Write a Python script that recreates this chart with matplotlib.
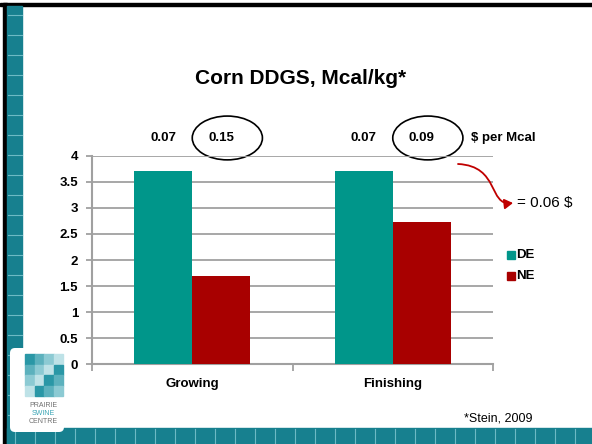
import matplotlib.pyplot as plt
from matplotlib.patches import Rectangle, Ellipse, FancyBboxPatch, FancyArrowPatch
from matplotlib.path import Path
import numpy as np

plt.rcParams['font.family'] = ['Liberation Sans', 'DejaVu Sans']

stages = ["Growing", "Finishing"]
de_values = [3.70, 3.70]
ne_values = [1.70, 2.73]
de_price = [0.07, 0.07]
ne_price = [0.15, 0.09]
y_ticks = [0, 0.5, 1, 1.5, 2, 2.5, 3, 3.5, 4]
y_tick_labels = ["0", "0.5", "1", "1.5", "2", "2.5", "3", "3.5", "4"]

teal = "#00968A"
red = "#A80000"
border = "#17808F"
border_line = "#6DB9C4"

W, H = 592, 444
fig = plt.figure(figsize=(W / 100, H / 100), dpi=100)
fig.patch.set_facecolor("white")

# main bar chart
ax = fig.add_axes([92 / W, (H - 364.3) / H, 401 / W, 208.6 / H])
x = np.arange(len(stages))
bw = 0.29
ax.bar(x - bw / 2, de_values, bw, color=teal, zorder=3)
ax.bar(x + bw / 2, ne_values, bw, color=red, zorder=3)
ax.set_xlim(-0.5, 1.5)
ax.set_ylim(0, 4)
ax.set_yticks(y_ticks)
ax.set_yticklabels(y_tick_labels, fontsize=9.5, fontweight="bold")
ax.yaxis.grid(True, color="#A0A0A0", lw=1.3, zorder=0)
ax.set_xticks([-0.5, 0.5, 1.5])
ax.set_xticklabels([])
ax.tick_params(axis="x", length=5, color="#A0A0A0", width=1.3)
ax.tick_params(axis="y", length=4, color="#A0A0A0", width=1.3, pad=6)
for s in ["top", "right"]:
    ax.spines[s].set_visible(False)
for s in ["left", "bottom"]:
    ax.spines[s].set_color("#A0A0A0")
    ax.spines[s].set_linewidth(1.5)
for xi, lab in zip(x, stages):
    ax.text(xi, -0.38, lab, ha="center", va="center", fontsize=9.5,
            fontweight="bold")

# $ per Mcal above each bar, NE prices circled
for xi, dp, npr in zip(x, de_price, ne_price):
    ax.text(xi - bw / 2, 4.34, f"{dp:.2f}", ha="center", va="center",
            fontsize=9.5, fontweight="bold", clip_on=False)
    ax.text(xi + bw / 2, 4.34, f"{npr:.2f}", ha="center", va="center",
            fontsize=9.5, fontweight="bold", clip_on=False)
    ax.add_patch(Ellipse((xi + bw / 2 + 0.03, 4.34), 0.35, 0.84, fill=False,
                         ec="black", lw=1.2, clip_on=False))
ax.text(1.39, 4.34, "$ per Mcal", ha="left", va="center", fontsize=9.5,
        fontweight="bold", clip_on=False)

# overlay in pixel coordinates for slide decoration
ov = fig.add_axes([0, 0, 1, 1], zorder=5)
ov.set_xlim(0, W)
ov.set_ylim(H, 0)
ov.axis("off")
ov.patch.set_alpha(0)

ov.text(301, 78, "Corn DDGS, Mcal/kg*", ha="center", va="center",
        fontsize=15, fontweight="bold")

# difference arrow
arrow_path = Path([(458, 164), (500, 166), (488, 206), (513, 203)],
                  [Path.MOVETO, Path.CURVE4, Path.CURVE4, Path.CURVE4])
ov.add_patch(FancyArrowPatch(path=arrow_path,
                             arrowstyle="-|>,head_length=5,head_width=3",
                             color="#C00000", lw=1.3))
ov.text(517, 203, "= 0.06 $", ha="left", va="center", fontsize=11)

# legend
for yy, col, lab in [(255, teal, "DE"), (276, red, "NE")]:
    ov.add_patch(Rectangle((507, yy - 4), 8, 8, color=col))
    ov.text(516, yy, lab, ha="left", va="center", fontsize=9.5,
            fontweight="bold")

ov.text(498, 418, "*Stein, 2009", ha="center", va="center", fontsize=9)

# slide frame
ov.add_patch(Rectangle((0, 3), W, 3, color="black"))
ov.add_patch(Rectangle((3, 3), 4, H, color="black"))
ov.add_patch(Rectangle((7, 6), 15, H, color=border))
ov.add_patch(Rectangle((7, 428), W, 16, color=border))
for yy in np.arange(15, 428, 20):
    ov.plot([8, 22], [yy, yy], color=border_line, lw=0.8, zorder=1.5)
for xx in np.arange(15, W, 20):
    ov.plot([xx, xx], [429, H], color=border_line, lw=0.8, zorder=1.5)

# logo
ov.add_patch(FancyBboxPatch((10, 348), 54, 84,
                            boxstyle="round,pad=0,rounding_size=5",
                            fc="white", ec="none", zorder=3))
logo_shades = ["#2A97A6", "#5CB1BD", "#8CCAD3", "#BEE2E7"]
for i in range(4):
    for j in range(4):
        ov.add_patch(Rectangle((25 + i * 9.5, 354 + j * 10.5), 9.5, 10.5,
                               color=logo_shades[(i + j) % 4], zorder=4))
ov.text(43, 405, "PRAIRIE", ha="center", va="center", fontsize=5,
        color="#707070", zorder=4)
ov.text(43, 413, "SWINE", ha="center", va="center", fontsize=5,
        color="#3AA5B5", zorder=4)
ov.text(43, 421, "CENTRE", ha="center", va="center", fontsize=5,
        color="#707070", zorder=4)

fig.savefig("out.png", dpi=100)
